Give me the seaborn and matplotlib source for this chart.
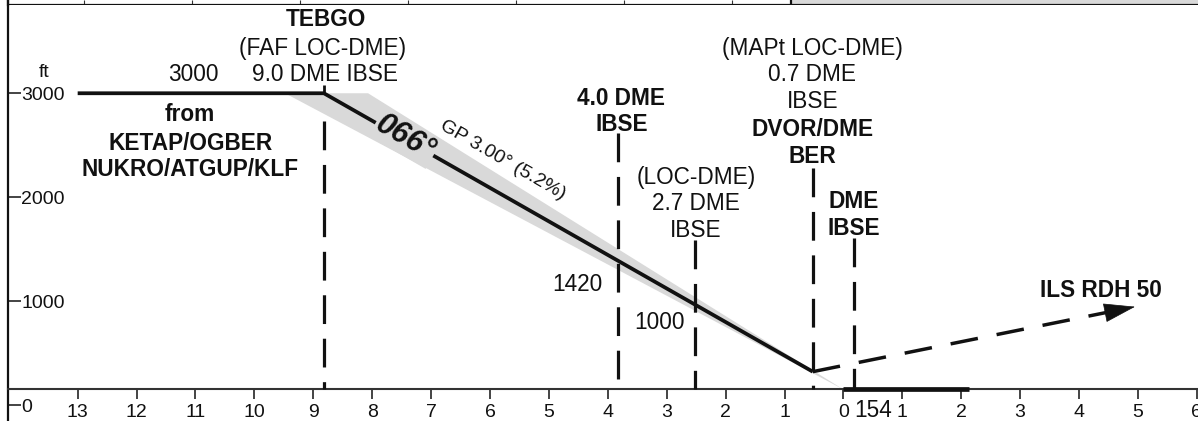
import numpy as np
import pandas as pd
import seaborn as sns
import matplotlib
matplotlib.use("Agg")
import matplotlib.pyplot as plt

sns.set_theme(style="white")
plt.rcParams["font.family"] = ["Liberation Sans", "DejaVu Sans"]

# ---------------- data ----------------
dist_ticks = list(range(-13, 7))                      # NM from threshold (negative = before THR)
dist_tick_labels = [str(abs(v)) for v in dist_ticks]
alt_ticks = [0, 1000, 2000, 3000]
alt_tick_labels = ["0", "1000", "2000", "3000"]

thr_elev = 154
profile_dist = [-13.0, -8.82, -0.52]                 # level segment + glide path to MAPt
profile_alt = [3000, 3000, 325]
band_dist = [-9.48, -8.07, 0.0]                      # grey glide-path wedge
band_alt = [3000, 3000, 154]
missed_dist = [-0.52, 4.95]
missed_alt = [325, 949]
runway_dist = [0.0, 2.13]
runway_alt = [154, 154]

fix_dist = [-8.82, -3.82, -2.52, -0.52, 0.18]        # TEBGO, 4.0 DME, 2.7 DME, MAPt/BER, DME IBSE
fix_top = [2734, 2618, 1590, 2282, 1609]

# text: (label, dist, baseline alt, weight)
labels = [
    ("TEBGO", -8.79, 3647, "bold"),
    ("(FAF LOC-DME)", -8.85, 3368, "normal"),
    ("9.0 DME IBSE", -8.80, 3118, "normal"),
    ("3000", -11.04, 3118, "normal"),
    ("from", -11.09, 2734, "bold"),
    ("KETAP/OGBER", -11.09, 2455, "bold"),
    ("NUKRO/ATGUP/KLF", -11.09, 2205, "bold"),
    ("4.0 DME", -3.77, 2888, "bold"),
    ("IBSE", -3.77, 2638, "bold"),
    ("(LOC-DME)", -2.50, 2128, "normal"),
    ("2.7 DME", -2.50, 1878, "normal"),
    ("IBSE", -2.50, 1619, "normal"),
    ("(MAPt LOC-DME)", -0.53, 3368, "normal"),
    ("0.7 DME", -0.53, 3118, "normal"),
    ("IBSE", -0.53, 2859, "normal"),
    ("DVOR/DME", -0.53, 2590, "bold"),
    ("BER", -0.53, 2331, "bold"),
    ("DME", 0.18, 1898, "bold"),
    ("IBSE", 0.18, 1638, "bold"),
    ("1420", -4.51, 1100, "normal"),
    ("1000", -3.13, 735, "normal"),
    ("ILS RDH 50", 4.37, 1042, "bold"),
    ("154", 0.50, -110, "normal"),
]
course_label = ("066°", -7.44, 2570)
gp_label = ("GP 3.00° (5.2%)", -5.78, 2359)

# header table strip (column separators, pixel units of the strip)
table_col_edges = [84, 192, 300, 408, 516, 624, 732]
table_shaded_from = 791

# ---------------- figure ----------------
W, H = 1198, 421
fig = plt.figure(figsize=(W / 100, H / 100), dpi=100)
ax = fig.add_axes([8 / W, 0, 1 - 8 / W, 1])
ax.set_xlim(-14.183, 6.02)
ax.set_ylim(-149, 3896)

grey = "#d9d9d9"
ink = "#111111"

# grey wedge
ax.fill(band_dist, band_alt, color=grey, lw=0, zorder=1)

# profile
prof = pd.DataFrame({"dist": profile_dist, "alt": profile_alt})
sns.lineplot(data=prof, x="dist", y="alt", sort=False, color=ink, lw=2.7,
             ax=ax, zorder=4, solid_capstyle="butt", solid_joinstyle="miter")
ax.plot([profile_dist[1]], [profile_alt[1]], marker=2, ms=6, mew=2, color=ink, zorder=4)

# vertical fix lines
for d, top in zip(fix_dist, fix_top):
    ax.plot([d, d], [top, thr_elev], color=ink, lw=2.3,
            linestyle=(0, (9.0, 4.6)), dash_capstyle="butt", zorder=3)

# missed approach
md = np.array(missed_dist)
ma = np.array(missed_alt)
frac = 0.95
ax.plot([md[0], md[0] + frac * (md[1] - md[0])], [ma[0], ma[0] + frac * (ma[1] - ma[0])],
        color=ink, lw=2.5, linestyle=(0, (8.0, 5.5)), dash_capstyle="butt", zorder=3)
ax.annotate("", xy=(md[1], ma[1]), xytext=(md[0] + 0.9 * (md[1] - md[0]), ma[0] + 0.9 * (ma[1] - ma[0])),
            arrowprops=dict(arrowstyle="-|>,head_length=1.05,head_width=0.32", fc=ink, ec=ink,
                            lw=0.5, mutation_scale=20, shrinkA=0, shrinkB=0), zorder=5)

# runway
ax.plot(runway_dist, runway_alt, color=ink, lw=3.4, solid_capstyle="butt", zorder=4)

# texts
for txt, d, a, w in labels:
    ax.text(d, a, txt, ha="center", va="baseline", fontsize=16.3, fontweight=w, color=ink, zorder=6)
ax.text(course_label[1], course_label[2], course_label[0], ha="center", va="center",
        rotation=-30, rotation_mode="anchor", fontsize=22, fontweight="bold", fontstyle="italic",
        color=ink, zorder=6,
        bbox=dict(boxstyle="square,pad=0.05", fc=grey, ec="none"))
ax.text(gp_label[1], gp_label[2], gp_label[0], ha="center", va="center",
        rotation=-30, rotation_mode="anchor", fontsize=14, color=ink, zorder=6)
ax.text(-13.57, 3157, "ft", ha="center", va="baseline", fontsize=14, color=ink)

# axes styling
for s in ["top", "right"]:
    ax.spines[s].set_visible(False)
ax.spines["left"].set_linewidth(1.6)
ax.spines["left"].set_color(ink)
ax.spines["bottom"].set_position(("data", thr_elev))
ax.spines["bottom"].set_linewidth(1.5)
ax.spines["bottom"].set_color("#333333")

ax.set_xticks(dist_ticks)
ax.set_xticklabels(dist_tick_labels)
ax.tick_params(axis="x", direction="out", length=7.5, width=1.1, color=ink,
               labelsize=14, pad=3.0, labelcolor=ink, bottom=True)
ax.set_yticks(alt_ticks)
ax.set_yticklabels(alt_tick_labels)
ax.tick_params(axis="y", direction="in", length=9, width=1.1, color=ink,
               labelsize=14, pad=-9.4, labelcolor=ink, left=True)
for lab in ax.get_yticklabels():
    lab.set_horizontalalignment("left")
ax.set_xlabel("")
ax.set_ylabel("")
ax.grid(False)
ax.set_facecolor("white")

# header strip
axt = fig.add_axes([8 / W, 1 - 5 / H, 1 - 8 / W, 5 / H])
axt.set_xlim(8, W)
axt.set_ylim(0, 1)
axt.axvspan(table_shaded_from, W, color=grey, lw=0)
axt.vlines(table_col_edges, 0, 1, color="#333333", lw=0.8)
axt.vlines([table_shaded_from], 0, 1, color=ink, lw=1.6)
axt.axhline(0, color=ink, lw=1.6)
for s in ["top", "right", "bottom"]:
    axt.spines[s].set_visible(False)
axt.spines["left"].set_linewidth(1.6)
axt.spines["left"].set_color(ink)
axt.set_xticks([])
axt.set_yticks([])
axt.patch.set_alpha(0)

fig.savefig("out.png", dpi=100, facecolor="white")
